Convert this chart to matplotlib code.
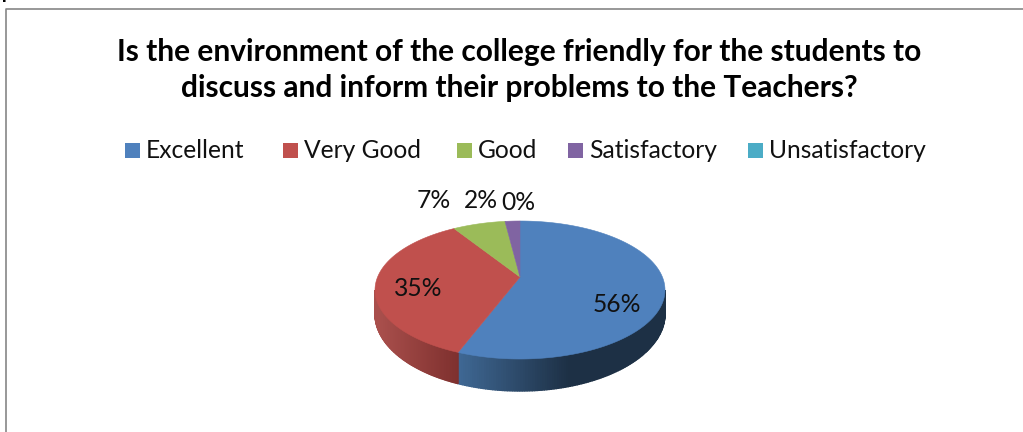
import numpy as np
import matplotlib
matplotlib.use("Agg")
from matplotlib import pyplot as plt
from matplotlib.patches import Rectangle

title = "Is the environment of the college friendly for the students to\ndiscuss and inform their problems to the Teachers?"
cut_text = "problems to the teachers."
categories = ["Excellent", "Very Good", "Good", "Satisfactory", "Unsatisfactory"]
values = [56, 35, 7, 2, 0]
colors = ["#4F81BD", "#C0504D", "#9BBB59", "#8064A2", "#4BACC6"]
side_left = ["#3F6894", "#A94F4C", "#7C9647", "#66507F", "#3C8A9E"]
side_right = ["#1D3045", "#7E302E", "#5C6F35", "#4C3C60", "#2D6776"]
legend_x = [124, 282, 456, 567, 747]
label_pos = [(617, 303), (418, 288), (434, 200), (481, 200), (518, 201)]

plt.rcParams['font.family'] = ['Lato', 'DejaVu Sans']
fig = plt.figure(figsize=(10.23, 4.32), dpi=100)
ax = fig.add_axes([0, 0, 1, 1])
ax.set_xlim(0, 1023)
ax.set_ylim(432, 0)
ax.axis("off")

# line of the page text, the crop leaves only its bottom
ax.text(1, -3, cut_text, va="baseline", fontsize=20, color="black")

# frame of the chart, cut by the picture on the right and at the bottom
ax.plot([6, 6, 1023], [432, 8.5, 8.5], color="#868686", lw=1.2)

ax.text(519, 70, title, ha="center", va="center", fontsize=21.5,
        fontweight="bold", color="black", linespacing=1.33)

for x, name, c in zip(legend_x, categories, colors):
    ax.add_patch(Rectangle((x + 1, 143), 15, 15, color=c, lw=0))
    ax.text(x + 22, 151, name, va="center", fontsize=17.7, color="#111111")

# pie shape, angles run clockwise from the top
cx, cy, rx, ry = 520, 290, 145, 69
apex = (520, 277)


def warp(t):
    # the near part of the tilted pie looks bigger
    return t - np.radians(10) * np.sin(t)


def depth(t):
    return 24 + 8 * np.abs(np.cos(t))


edges = warp(2 * np.pi * np.cumsum([0] + values) / sum(values))

# side wall first, in small strips for the shading
front0, front1 = np.pi / 2, 3 * np.pi / 2
for i in [0, 1]:
    a0 = max(edges[i], front0)
    a1 = min(edges[i + 1], front1)
    left = np.array(matplotlib.colors.to_rgb(side_left[i]))
    right = np.array(matplotlib.colors.to_rgb(side_right[i]))
    # drawn from the right to the left, each strip overlaps the one before
    steps = np.linspace(a0, a1, 120)
    for s0, s1 in zip(steps[:-1], steps[1:]):
        mid = cx + rx * np.sin((s0 + s1) / 2)
        if i == 0:
            f = np.clip((mid - 458) / 110, 0, 1)
        else:
            f = np.clip((mid - 378) / 80, 0, 1)
        c = left * (1 - f) + right * f
        xs = cx + rx * np.sin([s0, s1, s1, s0])
        ys = cy - ry * np.cos([s0, s1, s1, s0]) + np.array([0, 0, depth(s1), depth(s0)])
        ax.fill(xs, ys, facecolor=c, edgecolor=c, lw=1.0)

# top surface
for i in range(len(values)):
    if values[i] == 0:
        continue
    t = np.linspace(edges[i], edges[i + 1], 200)
    xs = np.r_[apex[0], cx + rx * np.sin(t)]
    ys = np.r_[apex[1], cy - ry * np.cos(t)]
    ax.fill(xs, ys, color=colors[i], lw=0.4)

for (x, y), v in zip(label_pos, values):
    ax.text(x, y + 1, "%d%%" % v, ha="center", va="center", fontsize=17.7, color="#111111")

fig.savefig("out.png", dpi=100)
